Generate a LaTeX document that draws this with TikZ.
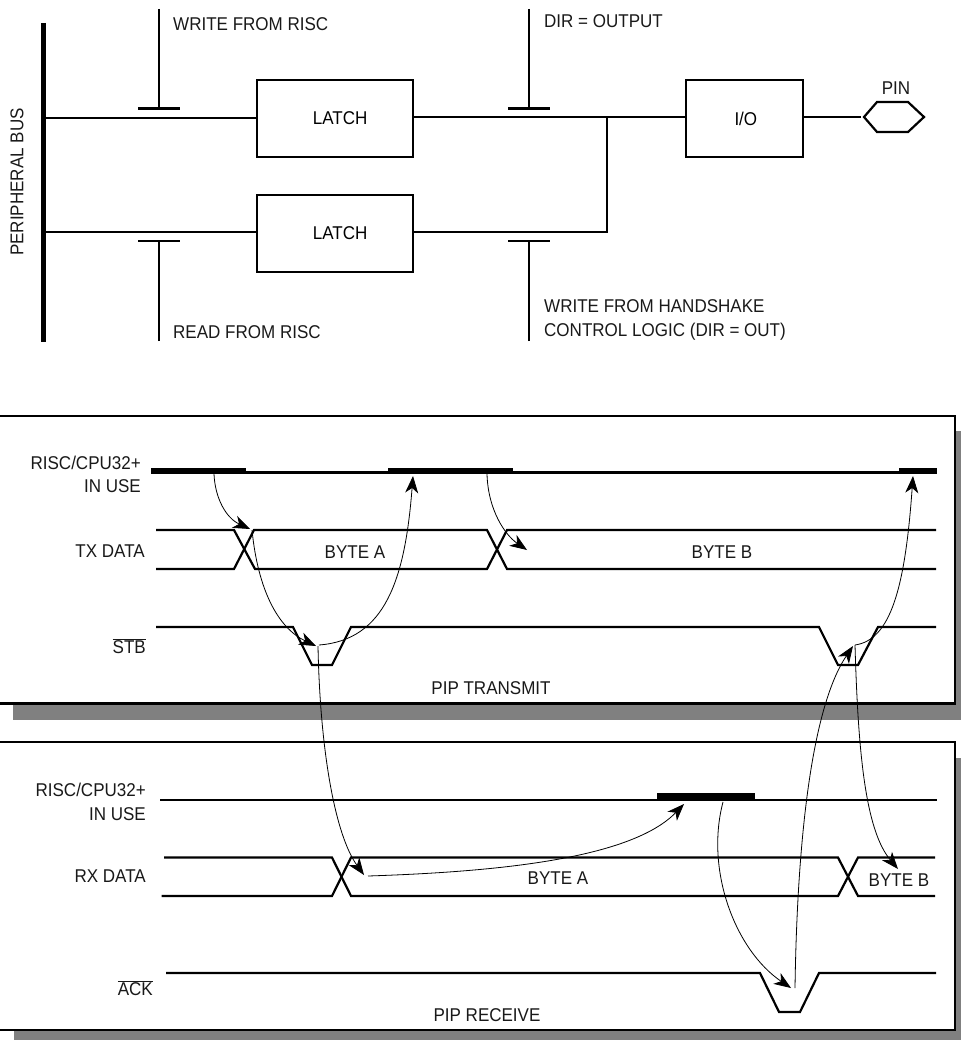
\documentclass[tikz,border=0pt]{standalone}
\usepackage{fontspec}
\setmainfont[FakeStretch=0.92]{Liberation Sans}
\usetikzlibrary{arrows.meta}
\tikzset{
  wire/.style={line width=2.2pt,black},
  bus/.style={line width=5pt,black},
  busy/.style={fill=black,draw=none},
  gate/.style={line width=2.2pt,black},
  box/.style={draw=black,line width=2.2pt,fill=white,minimum width=156pt,minimum height=77pt,inner sep=0pt,anchor=north west,font=\fontsize{18.5}{23.5}\selectfont},
  lbl/.style={inner sep=0pt,font=\fontsize{18.5}{23.5}\selectfont,text=black!90},
  lblL/.style={lbl,anchor=west},
  lblR/.style={lbl,anchor=east,align=right},
  causal/.style={line width=0.8pt,black,-{Stealth[length=17pt,width=13pt,inset=5pt]}},
  frame/.style={draw=black,line width=2.2pt,fill=white},
  shadow/.style={fill=black!50,draw=none},
}
\newcommand{\ovl}[1]{$\overline{\hbox{#1}}$}
\begin{document}
\begin{tikzpicture}[x=1pt,y=-1pt]
\useasboundingbox (0,0) rectangle (961,1040);
% ---------- top schematic
\coordinate (busT) at (43,23); \coordinate (busB) at (43,342);
\draw[bus] (busT) -- (busB);
\node[lbl,rotate=90] (busLbl) at (17,182) {PERIPHERAL BUS};
\node[box] (latchA) at (256,79) {\hspace*{10pt}LATCH};
\node[box] (latchB) at (256,194) {\hspace*{10pt}LATCH};
\node[box,minimum width=117.5pt] (io) at (684.5,79) {\hspace*{3pt}\raisebox{-3pt}{I/O}};
\coordinate (busA) at (43,118); \coordinate (busC) at (43,232);
\coordinate (latchAin) at (latchA.west|-busA); \coordinate (latchBin) at (latchB.west|-busC);
\draw[wire] (busA) -- (latchAin);
\draw[wire] (busC) -- (latchBin);
\coordinate (junc) at (607,117); \coordinate (juncB) at (607,232);
\coordinate (ioIn) at (io.west|-junc); \coordinate (ioOut) at (io.east|-junc);
\coordinate (latchAout) at (latchA.east|-junc);
\draw[wire] (latchAout) -- (junc) -- (ioIn);
\coordinate (latchBout) at (latchB.east|-juncB);
\draw[wire,line join=miter] (latchBout) -- (juncB) -- (junc);
\coordinate (pinL) at (864,117);
\draw[wire] (ioOut) -- (861,117) coordinate (pinW);
\draw[wire,line join=miter] (pinL) -- (877,102) -- (908,102) -- (924,117) -- (908,132) -- (877,132) -- cycle;
\node[lbl] (pinLbl) at (896,88) {PIN};
% gates
\foreach \n/\x/\ys/\yb in {ga/159/9/108.5, gc/529/9/108.5, gb/159/341/241, gd/529/341/241}{
  \coordinate (\n s) at (\x,\ys); \coordinate (\n m) at (\x,\yb);
  \coordinate (\n l) at (\x-21,\yb); \coordinate (\n r) at (\x+21,\yb);
  \draw[gate] (\n s) -- (\n m);
  \draw[gate] (\n l) -- (\n r);
}
\node[lblL] (t1) at (173,24) {WRITE FROM RISC};
\node[lblL] (t2) at (173,332) {READ FROM RISC};
\node[lblL] (t3) at (544,21) {DIR = OUTPUT};
\node[lblL,align=left] (t4) at (544,320) {WRITE FROM HANDSHAKE\\CONTROL LOGIC (DIR = OUT)};
% ---------- panel 1
\fill[shadow] (13,431) rectangle (961,720);
\draw[frame] (-3,416) rectangle (955,703.5);
% ---------- panel 2
\fill[shadow] (14,758) rectangle (961,1040);
\draw[frame] (-3,742) rectangle (955,1030);
% ---------- transmit
\node[lblR] (r1) at (141,474.5) {RISC/CPU32+\\IN USE};
\node[lblR] (r2) at (145,551) {TX DATA};
\node[lblR] (r3) at (146,646) {\ovl{STB}};
\draw[wire] (151,472.5) coordinate (ua) -- (937,472.5) coordinate (ub);
\fill[busy] (151,468) rectangle (246,474);
\fill[busy] (388,468) rectangle (513,474);
\fill[busy] (899,468) rectangle (937,474);
\draw[wire,line join=miter] (156,530) -- (234,530) -- (255,569) -- (487,569) -- (507,530) -- (936,530);
\draw[wire,line join=miter] (156,569) -- (234,569) -- (254,530) -- (487,530) -- (507,569) -- (936,569);
\draw[wire,line join=miter] (156,627) -- (293,627) -- (312,665) -- (332,665) -- (351,627) -- (819,627) -- (838,665) -- (858,665) -- (878,627) -- (936,627);
\node[lbl] (b1) at (355,552) {BYTE A};
\node[lbl] (b2) at (722,552) {BYTE B};
\node[lbl] (p1) at (491,688) {PIP TRANSMIT};
% ---------- receive
\node[lblR] (r4) at (146,802) {RISC/CPU32+\\IN USE};
\node[lblR] (r5) at (146,876) {RX DATA};
\node[lblR] (r6) at (153,988) {\ovl{ACK}};
\draw[wire] (160,800) -- (937,800);
\fill[busy] (657,793) rectangle (755,800);
\draw[wire,line join=miter] (164,857.5) -- (332,857.5) -- (351,896) -- (838,896) -- (858,857.5) -- (935,857.5);
\draw[wire,line join=miter] (161.5,896) -- (332,896) -- (351,857.5) -- (838,857.5) -- (858,896) -- (935,896);
\draw[wire,line join=miter] (166,973) -- (760,973) -- (779,1012) -- (800,1012) -- (819,973) -- (936,973);
\node[lbl] (b3) at (558,878) {BYTE A};
\node[lbl] (b4) at (899,880) {BYTE B};
\node[lbl] (p2) at (487,1015) {PIP RECEIVE};
% ---------- causal arrows
\coordinate (a1s) at (214,474); \coordinate (a1e) at (250,529);
\coordinate (a2s) at (252,530); \coordinate (a2e) at (316,646);
\coordinate (a3s) at (319,645); \coordinate (a3e) at (413,476);
\coordinate (a4s) at (487,474); \coordinate (a4e) at (527,550);
\coordinate (a5s) at (318,646); \coordinate (a5e) at (364,875);
\coordinate (a6s) at (368,876); \coordinate (a6e) at (684,804);
\coordinate (a7s) at (723,802); \coordinate (a7e) at (791,988);
\coordinate (a8s) at (795,988); \coordinate (a8e) at (853,646);
\coordinate (a9s) at (855,645); \coordinate (a9e) at (913,476);
\coordinate (a10s) at (855,645); \coordinate (a10e) at (898,869);
\draw[causal] (a1s) .. controls (215,498) and (226,518) .. (a1e);
\draw[causal] (a2s) .. controls (258,590) and (278,628) .. (a2e);
\draw[causal] (a3s) .. controls (385,640) and (405,580) .. (a3e);
\draw[causal] (a4s) .. controls (488,510) and (505,535) .. (a4e);
\draw[causal] (a5s) .. controls (320,750) and (335,835) .. (a5e);
\draw[causal] (a6s) .. controls (490,872) and (630,860) .. (a6e);
\draw[causal] (a7s) .. controls (705,870) and (735,950) .. (a7e);
\draw[causal] (a8s) .. controls (797,850) and (810,710) .. (a8e);
\draw[causal] (a9s) .. controls (890,640) and (905,590) .. (a9e);
\draw[causal] (a10s) .. controls (858,750) and (865,830) .. (a10e);
\end{tikzpicture}
\end{document}
